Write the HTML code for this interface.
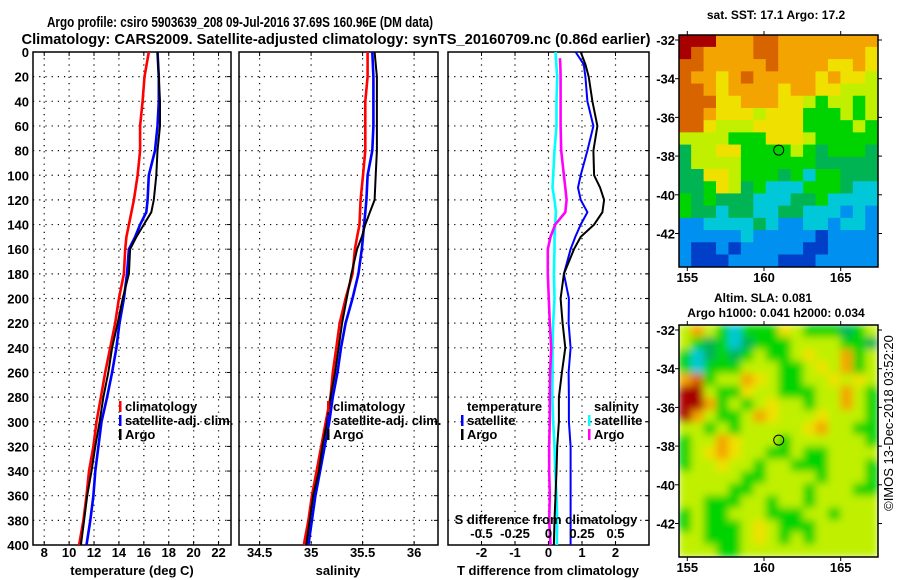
<!DOCTYPE html>
<html><head><meta charset="utf-8">
<style>
html,body{margin:0;padding:0;background:#fff;}
svg{display:block;font-family:"Liberation Sans",sans-serif;font-weight:bold;}
text{fill:#000;}
</style></head>
<body>
<svg id="chart" width="900" height="580" viewBox="0 0 900 580" xmlns="http://www.w3.org/2000/svg">
<rect width="900" height="580" fill="#fff"/>
<text x="240" y="27" font-size="15" text-anchor="middle" textLength="386" lengthAdjust="spacingAndGlyphs">Argo profile: csiro 5903639_208 09-Jul-2016 37.69S 160.96E (DM data)</text>
<text x="336" y="44" font-size="15" text-anchor="middle" textLength="629" lengthAdjust="spacingAndGlyphs">Climatology: CARS2009. Satellite-adjusted climatology: synTS_20160709.nc (0.86d earlier)</text>
<g id="panels"></g>
<g id="maps"></g>
</svg>
<script>
// ---- profile data ----
const depths = [0,20,40,60,80,100,120,130,140,150,160,180,200,220,240,260,280,300,320,340,360,380,400];
const tempClim = [16.4,16.05,15.9,15.7,15.7,15.5,15.2,15.0,14.8,14.6,14.5,14.4,14.0,13.7,13.3,12.9,12.55,12.2,11.95,11.6,11.4,11.15,10.8];
const tempSat  = [17.1,17.2,17.2,17.1,16.9,16.4,16.3,16.2,15.7,15.3,14.8,14.65,14.4,14.05,13.8,13.45,13.05,12.6,12.35,12.1,11.95,11.7,11.4];
const tempArgo = [17.1,17.2,17.3,17.3,17.1,17.0,16.8,16.6,16.0,15.4,14.9,14.8,14.3,13.9,13.45,13.15,12.75,12.45,12.1,11.8,11.45,11.2,10.95];
const salClim = [35.549,35.549,35.526,35.526,35.526,35.504,35.481,35.475,35.470,35.447,35.425,35.402,35.335,35.278,35.245,35.211,35.188,35.143,35.098,35.053,35.008,34.974,34.929];
const salSat  = [35.594,35.605,35.605,35.605,35.594,35.549,35.537,35.526,35.515,35.504,35.492,35.459,35.402,35.335,35.290,35.256,35.211,35.177,35.132,35.087,35.042,35.008,34.974];
const salArgo = [35.616,35.639,35.639,35.639,35.639,35.627,35.616,35.571,35.526,35.492,35.447,35.391,35.346,35.301,35.267,35.233,35.188,35.155,35.110,35.076,35.019,34.986,34.952];
const diffDepths = [0,10,20,40,60,80,100,110,120,130,140,150,160,180,200,220,240,260,280,300,320,340,360,380,400];
const tDiffSat  = [0.81,1.05,1.1,1.16,1.34,1.16,0.96,0.88,0.96,1.16,0.96,0.8,0.66,0.46,0.61,0.6,0.66,0.6,0.61,0.61,0.66,0.66,0.66,0.66,0.66];
const tDiffArgo = [0.96,1.1,1.2,1.31,1.46,1.34,1.36,1.54,1.66,1.61,1.36,0.96,0.76,0.46,0.36,0.42,0.5,0.4,0.31,0.31,0.26,0.24,0.21,0.18,0.16];
const sDiffSat  = [0.053,0.058,0.065,0.06,0.06,0.045,0.035,0.03,0.045,0.055,0.05,0.045,0.045,0.04,0.045,0.035,0.03,0.03,0.028,0.035,0.045,0.05,0.06,0.065,0.062];
const sDiffArgo = [0.085,0.088,0.09,0.09,0.09,0.095,0.115,0.125,0.135,0.125,0.05,0.015,-0.005,-0.005,0.002,0.01,0.02,0.012,0.01,0.01,0.005,0.005,0.01,0.005,0.015];
const depthTicks = [0,20,40,60,80,100,120,140,160,180,200,220,240,260,280,300,320,340,360,380,400];
const tempTicks = [8,10,12,14,16,18,20,22];
const salTicks = [34.5,35,35.5,36];
const salTickLabels = ["34.5","35","35.5","36"];
const tDiffTicks = [-2,-1,0,1,2];
const sDiffTicks = [-0.5,-0.25,0,0.25,0.5];
const sDiffLabels = ["-0.5","-0.25","0","0.25","0.5"];
// ---- map data (colour codes per cell) ----
const sstRows = [
"RRRoooOOoooooooo","ROooooOOoooooooy","OOoooooOooooyyoy","OooyoOoooooyoyyY",
"OOoyooooyooyyYYY","OOOyyoooyyYgYYgY","OOoyyyYyyygggYgY","OOyYYYyyyyggggYg",
"YYYYgggyyyYggggg","GYYyyggggYgGgggG","GYYYYggggggGGGGG","GGyyYgggGgcggGGG",
"GGgyYGgcccgggGcc","gGgGGGcccGGgcccc","gGGcGGccGGcccbcb","bbccccGcbbccbccb",
"bbbbbcbbbbbBbbbb","bBBbBbbbbbBBbbbb","bBBBbbbbBBBbbbbb"];
const slaRows = [
"YoYgcgggyYgggGgY","YgGgcGgggYYYYggG","gcGgGgYggYyYYogY","gcgggYYYggYyYogY",
"oOgYYoyYggYYyYyY","RRYggyYYgggYYoYg","RRogYgYyYYgYYoYg","RoYggYoyYYYyYYYg",
"YYgYgYYYYYyoYYgg","gYYoyYYYgYYYYYYg","gYyoyYYggYggYYYY","gYYyYYgYYgggYYYg",
"YYYYYggYYYYgYYYg","YYYYggYYYYgYYYgg","YYgggYYgYYgYYYYY","gYggYYYgggYYgYYY",
"gYgggYyYgggYYYYY","YYgggYyYgYgYYYYY","YYYggYYYYYYYYYYY"];
const mapColors = {R:"#a80000",O:"#d86400",o:"#f4a400",y:"#f0e000",Y:"#c0f000",g:"#00d400",G:"#00b454",c:"#00c8d8",b:"#0090f0",B:"#0040c8"};
const sstLonTicks=[155,160,165]; const latTicks=[-32,-34,-36,-38,-40,-42];
const argoLon = 160.96, argoLat = -37.69;

const NS="http://www.w3.org/2000/svg";
function mk(tag, attrs, parent){const e=document.createElementNS(NS,tag);for(const k in attrs)e.setAttribute(k,attrs[k]);parent.appendChild(e);return e;}
const panels=document.getElementById('panels');
const Y0=52, Y1=545;
const yD = d => Y0 + d*(Y1-Y0)/400;

function panel(name, x0, x1, vmin, vmax){
  const g=mk('g',{},panels);
  
  
  const sx = v => x0 + (v-vmin)*(x1-x0)/(vmax-vmin);
  return {g, sx, x0, x1};
}
function grid(p, xt){
  depthTicks.forEach(d=>{ if(d>0&&d<400){const l=mk('line',{x1:p.x0,x2:p.x1,y1:yD(d),y2:yD(d),stroke:'#000','stroke-width':1.2,'stroke-dasharray':'1.2 5'},p.g);
    
    }
    mk('line',{x1:p.x1-4,x2:p.x1,y1:yD(d),y2:yD(d),stroke:'#000'},p.g);
  });
  xt.forEach(v=>{const x=p.sx(v);const l=mk('line',{x1:x,x2:x,y1:Y0,y2:Y1,stroke:'#000','stroke-width':1.2,'stroke-dasharray':'1.2 5'},p.g);
    
    
    mk('line',{x1:x,x2:x,y1:Y0,y2:Y0+4,stroke:'#000'},p.g);
    mk('line',{x1:x,x2:x,y1:Y1,y2:Y1-4,stroke:'#000'},p.g);});
  const r=mk('rect',{x:p.x0,y:Y0,width:p.x1-p.x0,height:Y1-Y0,fill:'none',stroke:'#000','stroke-width':1.5},p.g);
  
  
}
function series(p, sx, vals, ds, color, w, name){
  const pts = vals.map((v,i)=>sx(v).toFixed(1)+','+yD(ds[i]).toFixed(1)).join(' ');
  const l=mk('polyline',{points:pts,fill:'none',stroke:color,'stroke-width':w,'stroke-linejoin':'miter'},p.g);
  
  
}
function txt(parent, x, y, s, size, anchor, name){
  const t=mk('text',{x:x,y:y,'font-size':size,'text-anchor':anchor||'start'},parent);
  t.textContent=s;
  
  
  return t;
}
function legend(parent, x, y, color, label){
  const m=mk('rect',{x:x,y:y-10,width:2.5,height:11,fill:color},parent);
  
  
  txt(parent, x+6, y, label, 13, 'start', 'legend-entry');
}

// depth labels
depthTicks.forEach(d=>{ txt(panels, 29, yD(d)+5, String(d), 13, 'end', 'y-tick-label'); });

// Panel 1 temperature
const p1=panel('temperature-panel',33,231,7.1,23);
grid(p1,tempTicks);
series(p1,p1.sx,tempClim,depths,'#f00',2.6,'temp-climatology-line');
series(p1,p1.sx,tempSat,depths,'#00f',2.6,'temp-satellite-line');
series(p1,p1.sx,tempArgo,depths,'#000',2,'temp-argo-line');
tempTicks.forEach(v=>txt(panels,p1.sx(v),557,String(v),13,'middle','x-tick-label'));
txt(panels,132,575,'temperature (deg C)',13,'middle','x-axis-title');
legend(p1.g,119,411,'#f00','climatology');
legend(p1.g,119,425,'#00f','satellite-adj. clim.');
legend(p1.g,119,439,'#000','Argo');

// Panel 2 salinity
const p2=panel('salinity-panel',239,438,34.3,36.232);
grid(p2,salTicks);
series(p2,p2.sx,salClim,depths,'#f00',2.6,'sal-climatology-line');
series(p2,p2.sx,salSat,depths,'#00f',2.6,'sal-satellite-line');
series(p2,p2.sx,salArgo,depths,'#000',2,'sal-argo-line');
salTicks.forEach((v,i)=>txt(panels,p2.sx(v),557,salTickLabels[i],13,'middle','x-tick-label'));
txt(panels,338,575,'salinity',13,'middle','x-axis-title');
legend(p2.g,327,411,'#f00','climatology');
legend(p2.g,327,425,'#00f','satellite-adj. clim.');
legend(p2.g,327,439,'#000','Argo');

// Panel 3 differences
const p3=panel('difference-panel',448,649,-3,3);
const sxS = v => p3.sx(v*4);
grid(p3,tDiffTicks);
series(p3,sxS,sDiffSat,diffDepths,'#0ff',2.6,'sal-diff-satellite-line');
series(p3,sxS,sDiffArgo,diffDepths.map(d=>Math.max(d,5)),'#f0f',2.6,'sal-diff-argo-line');
series(p3,p3.sx,tDiffSat,diffDepths,'#00f',2,'temp-diff-satellite-line');
series(p3,p3.sx,tDiffArgo,diffDepths,'#000',2,'temp-diff-argo-line');
tDiffTicks.forEach(v=>txt(panels,p3.sx(v),557,String(v),13,'middle','x-tick-label'));
txt(panels,548,575,'T difference from climatology',13,'middle','x-axis-title');
txt(p3.g,546,524,'S difference from climatology',13,'middle','s-axis-title');
sDiffTicks.forEach((v,i)=>txt(p3.g,sxS(v),538,sDiffLabels[i],13,'middle','s-tick-label'));
txt(p3.g,467,411,'temperature',13,'start','legend-title-temperature');
legend(p3.g,461,425,'#00f','satellite');
legend(p3.g,461,439,'#000','Argo');
txt(p3.g,594,411,'salinity',13,'start','legend-title-salinity');
legend(p3.g,588,425,'#0ff','satellite');
legend(p3.g,588,439,'#f0f','Argo');

// ---- maps ----
const maps=document.getElementById('maps');
const defs=mk('defs',{},maps);
const f=mk('filter',{id:'blur',x:'-5%',y:'-5%',width:'110%',height:'110%'},defs);
mk('feGaussianBlur',{stdDeviation:4},f);
function drawMap(name, y0, y1, latTop, rows, blur){
  const X0=679,X1=878;
  const g=mk('g',{},maps);
  
  
  const lonX = lon => 764 + (lon-160)*76.7/5;
  const latY = lat => latTop + (-32-lat)*19.35;
  const cid='clip'+name;
  const cp=mk('clipPath',{id:cid},defs); mk('rect',{x:X0,y:y0,width:X1-X0,height:y1-y0},cp);
  const cells=mk('g',{'clip-path':'url(#'+cid+')'},g);
  const inner=mk('g',blur?{filter:'url(#blur)'}:{},cells);
  const nr=rows.length, nc=rows[0].length;
  const cw=(X1-X0)/nc, ch=(y1-y0)/nr;
  rows.forEach((row,r)=>{[...row].forEach((c,k)=>{
    const rc=mk('rect',{x:X0+k*cw-0.3,y:y0+r*ch-0.3,width:cw+0.6,height:ch+0.6,fill:mapColors[c]},inner);
    
    
  });});
  mk('rect',{x:X0,y:y0,width:X1-X0,height:y1-y0,fill:'none',stroke:'#000','stroke-width':1.5},g);
  latTicks.forEach(l=>{const y=latY(l);mk('line',{x1:X0-4,x2:X0,y1:y,y2:y,stroke:'#000'},g);mk('line',{x1:X1,x2:X1+4,y1:y,y2:y,stroke:'#000'},g);
    txt(g,675,y+5,String(l),13,'end','lat-tick-label');});
  sstLonTicks.forEach(l=>{const x=lonX(l);mk('line',{x1:x,x2:x,y1:y0-4,y2:y0,stroke:'#000'},g);mk('line',{x1:x,x2:x,y1:y1,y2:y1+4,stroke:'#000'},g);
    txt(g,x,y1+15,String(l),13,'middle','lon-tick-label');});
  const c=mk('circle',{cx:lonX(argoLon),cy:latY(argoLat),r:5,fill:'none',stroke:'#000','stroke-width':1},g);
  
  
}
drawMap('sst-map',35,267,40,sstRows,false);
drawMap('sla-map',325,557,330,slaRows,true);
txt(maps,776,19,'sat. SST: 17.1 Argo: 17.2',12,'middle','sst-map-title');
txt(maps,763,302,'Altim. SLA: 0.081',12,'middle','sla-map-title');
txt(maps,776,317,'Argo h1000: 0.041 h2000: 0.034',12,'middle','sla-map-subtitle');
const cr=txt(maps,0,0,'\u00a9IMOS 13-Dec-2018 03:52:20',13,'middle','timestamp');
cr.setAttribute('font-weight','normal');
cr.setAttribute('transform','translate(893,423) rotate(-90)');
</script>
</body></html>
